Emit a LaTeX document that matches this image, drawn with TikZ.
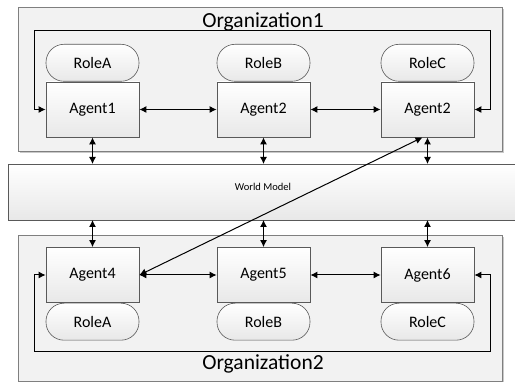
\documentclass[tikz,border=0pt]{standalone}
\usepackage{fontspec}
\setmainfont{Carlito}
\usetikzlibrary{shadows,arrows.meta,calc}

\definecolor{orgfill}{HTML}{F2F2F2}
\definecolor{orgline}{HTML}{7F7F7F}
\definecolor{boxline}{HTML}{595959}
\definecolor{boxlow}{HTML}{E8E8E8}

\tikzset{
  orgbox/.style={draw=orgline, line width=0.8pt, fill=orgfill,
    drop shadow={shadow xshift=2pt, shadow yshift=-2pt, fill=black!35, opacity=0.6}},
  agentbox/.style={draw=boxline, line width=0.8pt, top color=white, bottom color=boxlow,
    minimum width=93pt, minimum height=55pt, inner sep=0pt, font=\fontsize{16}{19}\selectfont},
  rolebox/.style={draw=boxline, line width=0.6pt, rounded corners=18pt, top color=white,
    bottom color=boxlow, minimum width=93pt, minimum height=37pt, inner sep=0pt,
    font=\fontsize{16}{19}\selectfont},
  worldbox/.style={draw=boxline, line width=0.8pt, top color=white, bottom color=boxlow},
  link/.style={line width=1pt, {Latex[length=7pt,width=7pt]}-{Latex[length=7pt,width=7pt]}},
  orglabel/.style={font=\fontsize{21.5}{25}\selectfont, inner sep=0pt},
}

\begin{document}
\begin{tikzpicture}[x=1pt, y=-1pt]
\useasboundingbox (0,0) rectangle (515,382);
\fill[white] (0,0) rectangle (515,382);

% organisation frames and the shared world model
\path[orgbox] (18,7) rectangle (502,151);
\path[orgbox] (18,235) rectangle (502,381);
\path[worldbox] (8,164) rectangle (522,220);
\node[font=\fontsize{10.5}{12}\selectfont, inner sep=0pt] (wm) at (263,187) {World Model};
\coordinate (wmtop) at (0,164);
\coordinate (wmbot) at (0,220);

\node[orglabel] (org1) at (263,22) {Organization1};
\node[orglabel] (org2) at (263,364) {Organization2};

% agents of the first organisation with their roles above
\node[agentbox] (a1) at (92.5,109.5) {Agent1};
\node[agentbox] (a2) at (263.5,109.5) {Agent2};
\node[agentbox] (a3) at (427.5,109.5) {Agent2};
\node[rolebox, anchor=south] (r1) at (a1.north) {RoleA};
\node[rolebox, anchor=south] (r2) at (a2.north) {RoleB};
\node[rolebox, anchor=south] (r3) at (a3.north) {RoleC};

% agents of the second organisation with their roles below
\node[agentbox] (a4) at (92.5,275) {Agent4};
\node[agentbox] (a5) at (263.5,275) {Agent5};
\node[agentbox] (a6) at (427.5,275) {Agent6};
\node[rolebox, anchor=north] (r4) at (a4.south) {RoleA};
\node[rolebox, anchor=north] (r5) at (a5.south) {RoleB};
\node[rolebox, anchor=north] (r6) at (a6.south) {RoleC};

% links between neighbouring agents
\draw[link] (a1) -- (a2);
\draw[link] (a2) -- (a3);
\draw[link] (a4) -- (a5);
\draw[link] (a5) -- (a6);

% links to the world model
\foreach \a in {a1,a2,a3}
  \draw[link] (\a.south) -- (\a.south |- wmtop);
\foreach \a in {a4,a5,a6}
  \draw[link] (\a.north) -- (\a.north |- wmbot);

% cross-organisation link
\draw[link] (a4.east) -- ($(a3.south)+(-5,0)$);

% loops around each organisation
\coordinate (t1l) at (34,31);
\coordinate (t1r) at (490,31);
\draw[link] (a1.west) -| (t1l) -- (t1r) |- (a3.east);
\coordinate (b2l) at (34,352);
\coordinate (b2r) at (490,352);
\draw[link] (a4.west) -| (b2l) -- (b2r) |- (a6.east);
\end{tikzpicture}
\end{document}
